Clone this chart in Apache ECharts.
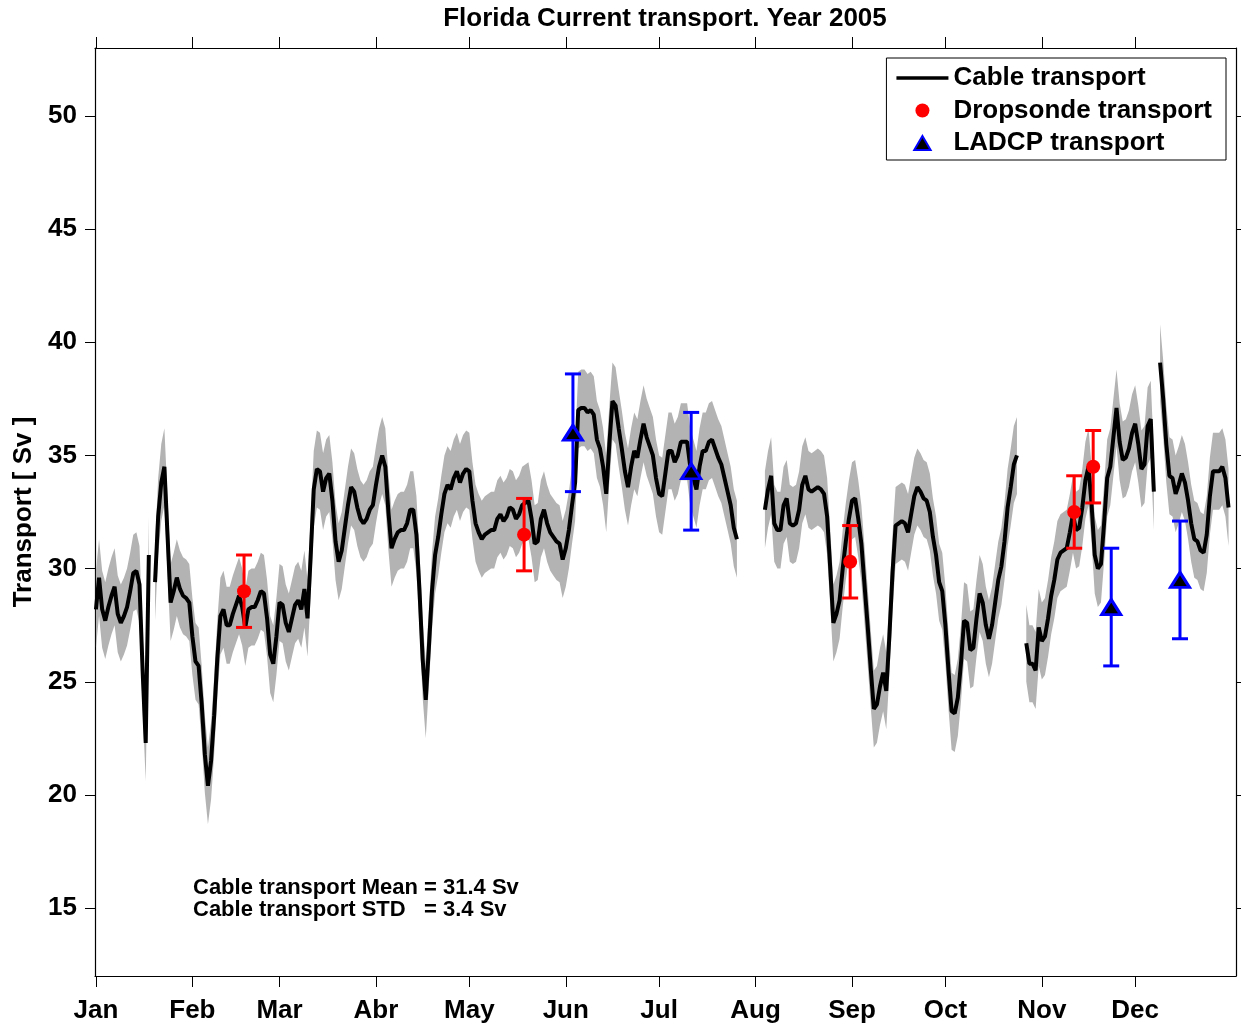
<!DOCTYPE html>
<html>
<head>
<meta charset="utf-8">
<script src="https://cdn.jsdelivr.net/npm/echarts@6/dist/echarts.min.js"></script>
<style>
  html, body { margin: 0; padding: 0; background: #fff; }
  #chart { width: 1241px; height: 1027px; }
</style>
</head>
<body>
<div id="chart"></div>
<script>
// daily cable transport (Sv), index = day of year starting at 0 (Jan 1); null = no data
const cableTransport = [
  28.2, 29.6, 28.2, 27.7, 28.3, 28.8, 29.2, 28.0, 27.6, 27.9,
  28.3, 29.0, 29.8, 29.9, 29.3, 25.5, 22.3, 30.6, null, 29.4,
  32.3, 33.8, 34.5, 31.5, 28.5, 29.0, 29.6, 29.1, 28.8, 28.7,
  28.5, 27.0, 25.9, 25.7, 24.0, 21.8, 20.4, 21.5, 23.5, 26.0,
  27.9, 28.2, 27.5, 27.5, 28.0, 28.4, 28.8, 28.3, 27.4, 28.2,
  28.3, 28.3, 28.6, 29.0, 28.9, 27.8, 26.2, 25.8, 27.0, 28.5,
  28.4, 27.6, 27.2, 27.8, 28.4, 28.6, 28.2, 29.1, 27.8, 30.5,
  33.5, 34.4, 34.3, 33.4, 34.0, 34.2, 33.0, 31.2, 30.3, 30.8,
  31.8, 32.8, 33.6, 33.4, 32.7, 32.2, 32.0, 32.2, 32.6, 32.8,
  33.7, 34.5, 35.0, 34.5, 32.5, 30.9, 31.3, 31.6, 31.7, 31.7,
  32.0, 32.6, 32.6, 31.5, 29.0, 26.0, 24.2, 26.5, 29.0, 30.6,
  31.4, 32.4, 33.3, 33.7, 33.5, 34.0, 34.3, 33.8, 34.2, 34.4,
  34.3, 33.0, 32.0, 31.6, 31.3, 31.5, 31.6, 31.7, 31.7, 32.2,
  32.4, 32.1, 32.3, 32.7, 32.6, 32.2, 32.4, 32.8, 32.9, 33.0,
  32.2, 31.1, 31.2, 32.2, 32.6, 32.0, 31.6, 31.4, 31.2, 31.1,
  30.4, 30.9, 31.7, 32.8, 33.8, 37.0, 37.1, 37.1, 36.9, 37.0,
  36.8, 35.7, 35.3, 34.5, 33.3, 35.5, 37.4, 37.2, 36.2, 35.3,
  34.3, 33.6, 34.5, 35.2, 34.9, 35.7, 36.4, 35.8, 35.4, 35.0,
  34.0, 33.3, 33.2, 34.2, 35.2, 35.2, 34.7, 35.0, 35.6, 35.6,
  35.6, 34.5, 34.0, 33.5, 34.5, 35.2, 35.2, 35.6, 35.7, 35.3,
  34.9, 34.6, 34.0, 33.4, 32.8, 31.8, 31.3, null, null, null,
  null, null, null, null, null, 32.6, 33.5, 34.1, 32.0, 31.7,
  31.7, 32.8, 33.1, 32.0, 31.9, 32.0, 32.6, 33.7, 34.1, 33.5,
  33.4, 33.5, 33.6, 33.5, 33.3, 32.3, 30.0, 27.6, 28.0, 28.6,
  30.0, 31.2, 32.2, 33.0, 33.1, 32.2, 31.1, 29.3, 27.5, 25.6,
  23.8, 24.0, 24.8, 25.4, 24.6, 27.0, 29.8, 31.9, 32.0, 32.1,
  32.0, 31.6, 32.4, 33.2, 33.6, 33.4, 33.1, 33.0, 32.5, 31.4,
  30.6, 29.4, 29.0, 27.5, 25.5, 23.7, 23.6, 24.3, 25.8, 27.7,
  27.6, 26.4, 26.5, 27.8, 28.9, 28.5, 27.5, 26.9, 27.5, 28.5,
  29.5, 30.1, 31.2, 32.7, 33.6, 34.6, 35.0, null, null, 26.7,
  25.8, 25.8, 25.5, 27.4, 26.8, 27.0, 27.8, 28.8, 29.5, 30.4,
  30.7, 30.8, 30.9, 31.6, 32.4, 31.7, 31.8, 32.7, 33.9, 34.5,
  32.8, 30.6, 30.0, 30.2, 32.0, 34.0, 34.5, 35.8, 37.1, 35.6,
  34.8, 34.9, 35.3, 36.0, 36.4, 35.5, 34.4, 34.6, 36.3, 36.6,
  33.4, null, 39.1, 37.5, 35.5, 34.1, 34.0, 33.3, 33.7, 34.2,
  33.8, 33.0, 32.0, 31.3, 31.2, 30.8, 30.7, 31.5, 33.2, 34.3,
  34.3, 34.3, 34.5, 34.0, 32.7
];
const cableUncertainty = 1.7;

const dropsondeDays = [47.6, 137.6, 242.4, 314.4, 320.5];
const dropsondeValues = [29.0, 31.5, 30.3, 32.5, 34.5];
const dropsondeErrors = [1.6, 1.6, 1.6, 1.6, 1.6];

const ladcpDays = [153.3, 191.3, 326.3, 348.4];
const ladcpValues = [36.0, 34.3, 28.3, 29.5];
const ladcpErrors = [2.6, 2.6, 2.6, 2.6];

const monthStarts = [0, 31, 59, 90, 120, 151, 181, 212, 243, 273, 304, 334];
const monthLabels = ['Jan', 'Feb', 'Mar', 'Abr', 'May', 'Jun', 'Jul', 'Aug', 'Sep', 'Oct', 'Nov', 'Dec'];
const yTicks = [15, 20, 25, 30, 35, 40, 45, 50];

const FONT = '"Liberation Sans", Arial, Helvetica, sans-serif';

const myChart = echarts.init(document.getElementById('chart'));

// line data, gaps as '-'
const lineData = cableTransport.map((v, i) => [i, v == null ? '-' : v]);

// continuous runs of data for the grey band
const segments = [];
let start = null;
cableTransport.forEach((v, i) => {
  if (v != null && start == null) start = i;
  if ((v == null || i === cableTransport.length - 1) && start != null) {
    const end = v == null ? i - 1 : i;
    segments.push([start, end]);
    start = null;
  }
});

function renderBand(params, api) {
  const s = api.value(0), e = api.value(1);
  const pts = [];
  for (let i = s; i <= e; i++) pts.push(api.coord([i, cableTransport[i] + cableUncertainty]));
  for (let i = e; i >= s; i--) pts.push(api.coord([i, cableTransport[i] - cableUncertainty]));
  return { type: 'polygon', shape: { points: pts }, style: { fill: '#b3b3b3' } };
}

function errorBar(color) {
  return function (params, api) {
    const x = api.value(0), v = api.value(1), err = api.value(2);
    const top = api.coord([x, v + err]);
    const bot = api.coord([x, v - err]);
    const cap = 8;
    const st = { stroke: color, lineWidth: 3 };
    return {
      type: 'group',
      children: [
        { type: 'line', shape: { x1: top[0], y1: top[1], x2: bot[0], y2: bot[1] }, style: st },
        { type: 'line', shape: { x1: top[0] - cap, y1: top[1], x2: top[0] + cap, y2: top[1] }, style: st },
        { type: 'line', shape: { x1: bot[0] - cap, y1: bot[1], x2: bot[0] + cap, y2: bot[1] }, style: st }
      ]
    };
  };
}

const xAxisCommon = {
  type: 'value',
  min: -0.3,
  max: 366.4,
  splitLine: { show: false },
  axisLine: { show: true, onZero: false, lineStyle: { color: '#000', width: 1.2 } },
  axisTick: { show: true, inside: false, length: 11, customValues: monthStarts, lineStyle: { color: '#000', width: 1 } }
};
const yAxisCommon = {
  type: 'value',
  min: 12,
  max: 53,
  splitLine: { show: false },
  axisLine: { show: true, onZero: false, lineStyle: { color: '#000', width: 1.2 } },
  axisTick: { show: true, inside: false, length: 10, customValues: yTicks, lineStyle: { color: '#000', width: 1 } }
};

myChart.setOption({
  animation: false,
  backgroundColor: '#fff',
  textStyle: { fontFamily: FONT },
  title: {
    text: 'Florida Current transport. Year 2005',
    left: 665,
    textAlign: 'center',
    top: 6,
    padding: 0,
    textStyle: { fontFamily: FONT, fontSize: 26, fontWeight: 'bold', color: '#000' }
  },
  grid: { left: 95, right: 5, top: 48, bottom: 51 },
  legend: {
    orient: 'vertical',
    right: 15,
    top: 58,
    align: 'left',
    backgroundColor: '#fff',
    borderColor: '#000',
    borderWidth: 1,
    borderRadius: 0,
    padding: [7, 14, 4, 10],
    itemGap: 6.5,
    itemWidth: 52,
    itemHeight: 14,
    symbolKeepAspect: true,
    textStyle: { fontFamily: FONT, fontSize: 26, fontWeight: 'bold', color: '#000' },
    data: [
      { name: 'Cable transport', icon: 'path://M0,0 L52,0 L52,3.5 L0,3.5 Z' },
      { name: 'Dropsonde transport', icon: 'circle' },
      { name: 'LADCP transport', icon: 'path://M7,0 L14,12 L0,12 Z' }
    ]
  },
  xAxis: [
    Object.assign({}, xAxisCommon, {
      position: 'bottom',
      axisLabel: {
        show: true,
        customValues: monthStarts,
        margin: 22,
        fontSize: 26,
        fontWeight: 'bold',
        color: '#000',
        fontFamily: FONT,
        formatter: v => monthLabels[monthStarts.indexOf(v)]
      }
    }),
    Object.assign({}, xAxisCommon, { position: 'top', axisLabel: { show: false } })
  ],
  yAxis: [
    Object.assign({}, yAxisCommon, {
      position: 'left',
      name: 'Transport [ Sv ]',
      nameLocation: 'middle',
      nameGap: 54,
      nameTextStyle: { fontFamily: FONT, fontSize: 26, fontWeight: 'bold', color: '#000' },
      axisLabel: {
        show: true,
        customValues: yTicks,
        margin: 18,
        fontSize: 26,
        fontWeight: 'bold',
        color: '#000',
        fontFamily: FONT
      }
    }),
    Object.assign({}, yAxisCommon, { position: 'right', axisLabel: { show: false } })
  ],
  graphic: [
    {
      type: 'text',
      left: 193,
      top: 877,
      style: {
        text: 'Cable transport Mean = 31.4 Sv\nCable transport STD   = 3.4 Sv',
        font: 'bold 22px ' + FONT,
        lineHeight: 22,
        fill: '#000'
      }
    }
  ],
  series: [
    {
      name: 'band',
      type: 'custom',
      renderItem: renderBand,
      data: segments,
      encode: { x: [0, 1] },
      z: 1,
      silent: true
    },
    {
      name: 'Cable transport',
      type: 'line',
      data: lineData,
      symbol: 'none',
      showSymbol: false,
      connectNulls: false,
      lineStyle: { color: '#000', width: 4 },
      itemStyle: { color: '#000' },
      z: 2
    },
    {
      name: 'dropsondeErr',
      type: 'custom',
      renderItem: errorBar('#ff0000'),
      data: dropsondeDays.map((d, i) => [d, dropsondeValues[i], dropsondeErrors[i]]),
      encode: { x: 0, y: 1 },
      z: 3
    },
    {
      name: 'ladcpErr',
      type: 'custom',
      renderItem: errorBar('#0000ff'),
      data: ladcpDays.map((d, i) => [d, ladcpValues[i], ladcpErrors[i]]),
      encode: { x: 0, y: 1 },
      z: 3
    },
    {
      name: 'Dropsonde transport',
      type: 'scatter',
      data: dropsondeDays.map((d, i) => [d, dropsondeValues[i]]),
      symbol: 'circle',
      symbolSize: 14,
      itemStyle: { color: '#ff0000', opacity: 1 },
      z: 4
    },
    {
      name: 'LADCP transport',
      type: 'scatter',
      data: ladcpDays.map((d, i) => [d, ladcpValues[i]]),
      symbol: 'triangle',
      symbolSize: [19, 15],
      itemStyle: { color: '#000', borderColor: '#0000ff', borderWidth: 3, opacity: 1 },
      z: 4
    }
  ]
});
</script>
</body>
</html>
